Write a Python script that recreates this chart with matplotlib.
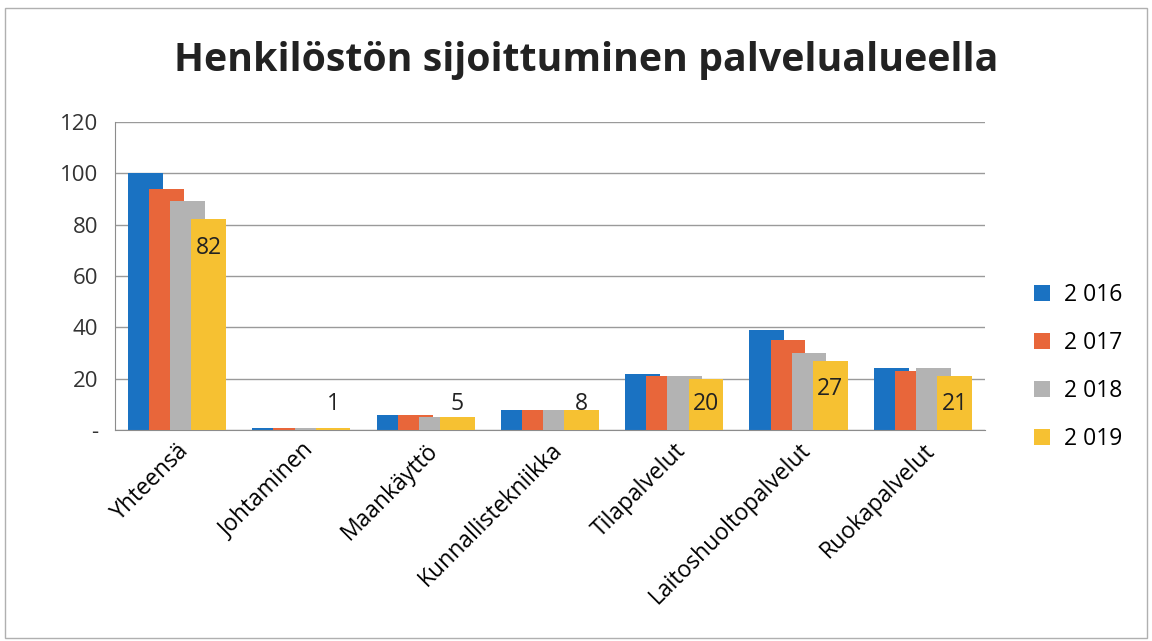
import matplotlib.pyplot as plt
import numpy as np
from matplotlib.patches import Rectangle

categories = ["Yhteensä", "Johtaminen", "Maankäyttö", "Kunnallistekniikka",
              "Tilapalvelut", "Laitoshuoltopalvelut", "Ruokapalvelut"]
years = ["2 016", "2 017", "2 018", "2 019"]
v2016 = [100, 1, 6, 8, 22, 39, 24]
v2017 = [94, 1, 6, 8, 21, 35, 23]
v2018 = [89, 1, 5, 8, 21, 30, 24]
v2019 = [82, 1, 5, 8, 20, 27, 21]
series = [v2016, v2017, v2018, v2019]
colors = ["#1a72c2", "#e8663a", "#b3b3b3", "#f6c132"]

plt.rcParams['font.family'] = ['Open Sans', 'DejaVu Sans']

fig = plt.figure(figsize=(11.52, 6.41), dpi=100)
ax = fig.add_axes([0.0998, 0.329, 0.7552, 0.481])

x = np.arange(len(categories))
width = 0.28
step = 0.17
for i, vals in enumerate(series):
    ax.bar(x + (i - 1.5) * step, vals, width, color=colors[i], label=years[i],
           zorder=2 + i)

# data labels for the last year
for xi, v in zip(x, v2019):
    ax.text(xi + 1.5 * step, max(v - 11, 10), str(v), ha='center', va='center',
            fontsize=16.5, color='#222222', zorder=10)

ax.set_xlim(-0.5, len(categories) - 0.5)
ax.set_ylim(0, 120)
ax.set_yticks(range(0, 121, 20))
ax.set_yticklabels(["-"] + [str(t) for t in range(20, 121, 20)], fontsize=16)
ax.set_xticks(x)
ax.set_xticklabels(categories, rotation=45, ha='right', rotation_mode='anchor',
                   fontsize=16.5)
ax.tick_params(axis='x', length=0, pad=6)
ax.tick_params(axis='y', length=0, pad=12, colors='#333333')
ax.yaxis.grid(True, color='#9a9a9a', linewidth=1, zorder=0)
ax.set_axisbelow(True)
for s in ['top', 'right']:
    ax.spines[s].set_visible(False)
ax.spines['left'].set_color('#8c8c8c')
ax.spines['bottom'].set_color('#8c8c8c')

fig.text(0.509, 0.905, "Henkilöstön sijoittuminen palvelualueella",
         ha='center', va='center', fontsize=28.3, fontweight='bold',
         color='#222222')

fig.legend(loc='center left', bbox_to_anchor=(0.88, 0.427), frameon=False,
           fontsize=16.5, handlelength=0.7, handleheight=0.7, labelspacing=1.05,
           handletextpad=0.6)

fig.patches.append(Rectangle((0.004, 0.004), 0.992, 0.983, transform=fig.transFigure,
                             fill=False, edgecolor='#b0b0b0', linewidth=1))

fig.savefig("out.png", dpi=100)
